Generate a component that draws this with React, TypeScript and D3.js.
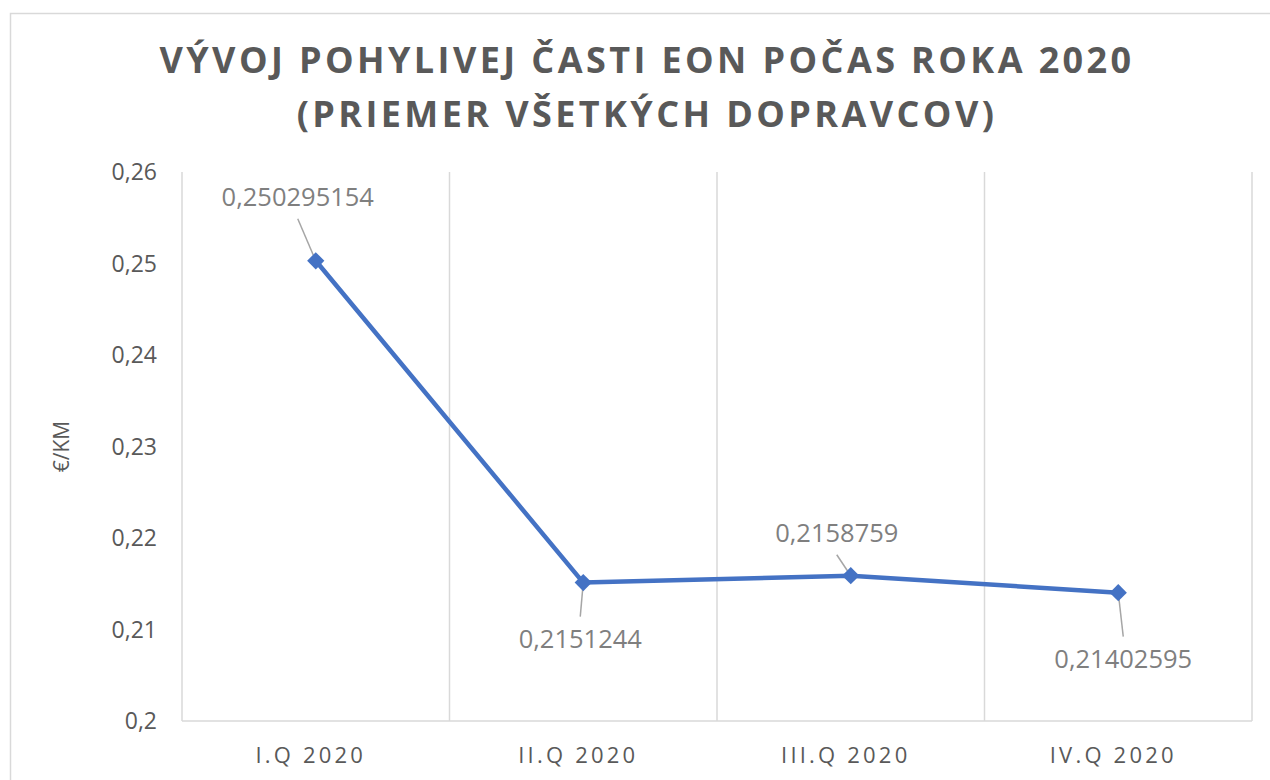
import React from "react";
import * as d3 from "d3";

const titleLines = ["VÝVOJ POHYLIVEJ ČASTI EON POČAS ROKA 2020", "(PRIEMER VŠETKÝCH DOPRAVCOV)"];
const categories = ["I.Q 2020", "II.Q 2020", "III.Q 2020", "IV.Q 2020"];
const values = [0.250295154, 0.2151244, 0.2158759, 0.21402595];
const valueLabels = ["0,250295154", "0,2151244", "0,2158759", "0,21402595"];
const yTicks = [0.2, 0.21, 0.22, 0.23, 0.24, 0.25, 0.26];
const yTickLabels = ["0,2", "0,21", "0,22", "0,23", "0,24", "0,25", "0,26"];
const yAxisTitle = "€/KM";

const W = 1270;
const H = 780;
const plot = { left: 182, right: 1252, top: 172, bottom: 721 };
// label placement relative to the point: [dx, dy of baseline]
const labelOffsets: [number, number][] = [
  [-18, -55],
  [-3, 65],
  [-14, -34],
  [5, 75],
];

export default function App() {
  const x = d3.scaleBand<string>().domain(categories).range([plot.left, plot.right]);
  const y = d3.scaleLinear().domain([0.2, 0.26]).range([plot.bottom, plot.top]);
  const cx = (c: string) => (x(c) ?? 0) + x.bandwidth() / 2;
  const line = d3
    .line<number>()
    .x((_, i) => cx(categories[i]))
    .y((d) => y(d));
  const font = "'Open Sans', sans-serif";
  const diamond = d3.symbol().type(d3.symbolDiamond2).size(190)() as string;

  return (
    <svg
      width={W}
      height={H}
      style={{ position: "absolute", left: 0, top: 0, background: "#fff" }}
      fontFamily={font}
    >
      <rect x={10.5} y={13.5} width={W + 20} height={H + 20} fill="#fff" stroke="#D9D9D9" strokeWidth={1.5} />
      {titleLines.map((t, i) => (
        <text
          key={i}
          x={647}
          y={73 + i * 54}
          textAnchor="middle"
          fontSize={36}
          fontWeight={700}
          fill="#595959"
          letterSpacing={3.4}
        >
          {t}
        </text>
      ))}
      {/* vertical gridlines */}
      {categories.map((c) => (
        <line
          key={c}
          x1={x(c) ?? 0}
          x2={x(c) ?? 0}
          y1={plot.top}
          y2={plot.bottom}
          stroke="#D9D9D9"
          strokeWidth={1.5}
        />
      ))}
      <line x1={plot.right} x2={plot.right} y1={plot.top} y2={plot.bottom} stroke="#D9D9D9" strokeWidth={1.5} />
      <line x1={plot.left} x2={plot.right} y1={plot.bottom} y2={plot.bottom} stroke="#D9D9D9" strokeWidth={1.5} />
      {/* y ticks */}
      {yTicks.map((t, i) => (
        <text key={t} x={157} y={y(t)} dy="0.35em" textAnchor="end" fontSize={23} fill="#595959">
          {yTickLabels[i]}
        </text>
      ))}
      <text
        transform={`translate(69,${(plot.top + plot.bottom) / 2}) rotate(-90)`}
        textAnchor="middle"
        fontSize={21}
        fill="#595959"
      >
        {yAxisTitle}
      </text>
      {/* x labels */}
      {categories.map((c) => (
        <text
          key={c}
          x={cx(c) - 5}
          y={763}
          textAnchor="middle"
          fontSize={22}
          fill="#595959"
          letterSpacing={3.2}
        >
          {c}
        </text>
      ))}
      {/* leader lines */}
      {values.map((v, i) => {
        const px = cx(categories[i]);
        const py = y(v);
        const [dx, dy] = labelOffsets[i];
        const above = dy < 0;
        const lx = px + dx;
        const ly = above ? py + dy + 13 : py + dy - 31;
        return (
          <line key={i} x1={lx} y1={ly} x2={px} y2={py} stroke="#A6A6A6" strokeWidth={1.5} />
        );
      })}
      <path d={line(values) ?? ""} fill="none" stroke="#4472C4" strokeWidth={4.5} strokeLinejoin="round" />
      {values.map((v, i) => (
        <path key={i} d={diamond} transform={`translate(${cx(categories[i])},${y(v)})`} fill="#4472C4" />
      ))}
      {values.map((v, i) => {
        const [dx, dy] = labelOffsets[i];
        return (
          <text
            key={i}
            x={cx(categories[i]) + dx}
            y={y(v) + dy}
            textAnchor="middle"
            fontSize={25.5}
            fill="#7F7F7F"
          >
            {valueLabels[i]}
          </text>
        );
      })}
    </svg>
  );
}
